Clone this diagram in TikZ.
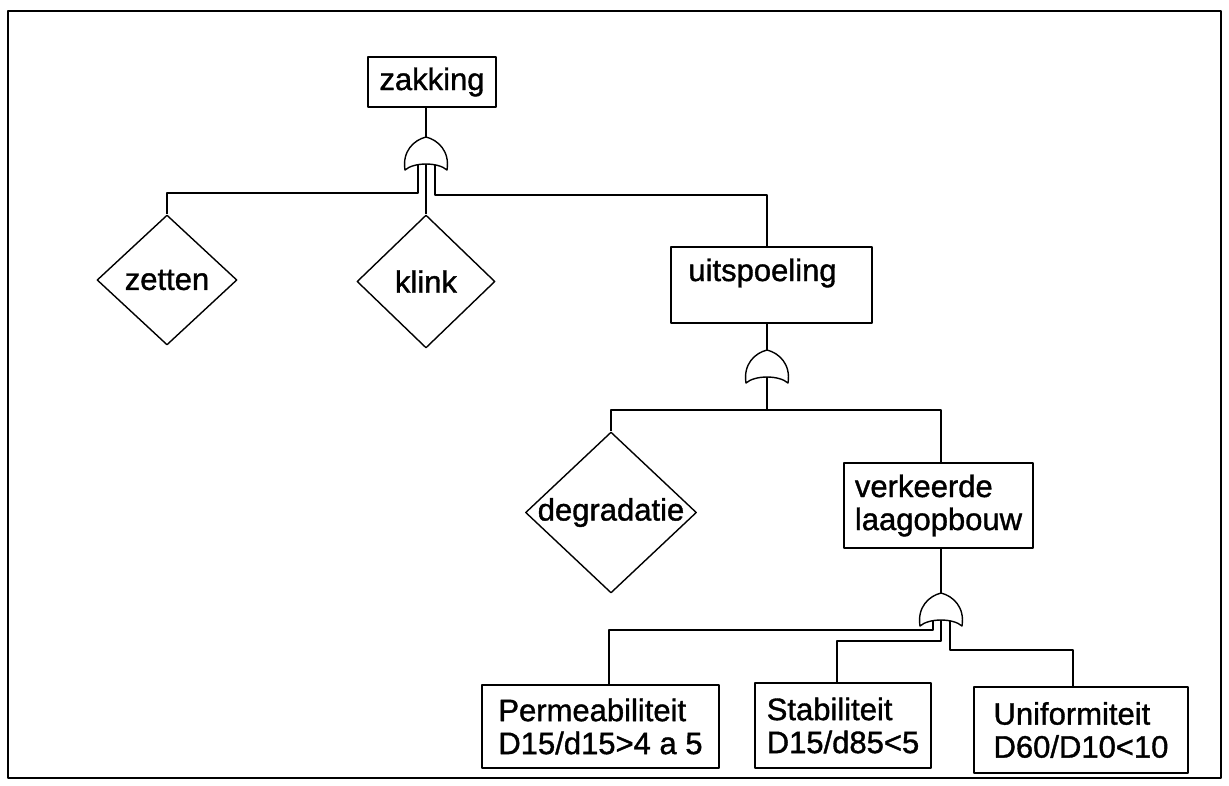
\documentclass[tikz,border=0pt]{standalone}
\usepackage{fontspec}
\setmainfont{Liberation Sans}[FakeBold=1.2]
\usetikzlibrary{calc,shapes.geometric}

\tikzset{
  box/.style={draw, rectangle, align=left, inner sep=0pt},
  ruit/.style={draw, diamond, inner sep=0pt},
  orgate/.pic={
    \draw (-21,33) .. controls (-24,14) and (-12,3) .. (0,0)
          .. controls (12,3) and (24,14) .. (21,33)
          .. controls (12,25) and (-12,25) .. (-21,33) -- cycle;
    \coordinate (-top) at (0,0);
    \coordinate (-l) at (-8,28);
    \coordinate (-c) at (0,27);
    \coordinate (-r) at (9,28);
  }
}

\begin{document}
\begin{tikzpicture}[x=1pt, y=-1pt, line width=1.4pt, line join=round,
    font=\fontsize{31}{33}\selectfont]
    \useasboundingbox (0,0) rectangle (1229,785);
    % kader
    \draw[line width=2.5pt] (8,11) rectangle (1221,778);

    % gebeurtenissen
    \node[box, minimum width=128, minimum height=50] (zakking) at (432,82) {zakking};
    \node[ruit, minimum width=140, minimum height=130, label=center:zetten] (zetten) at (167,280) {};
    \node[ruit, minimum width=138, minimum height=133, label=center:klink] (klink) at (426,281.5) {};
    \node[box, minimum width=201, minimum height=76,
      label={[xshift=-9pt, yshift=12pt]center:uitspoeling}] (uitsp) at (771.5,285) {};
    \node[ruit, minimum width=171, minimum height=161, label=center:degradatie] (degrad) at (611,512.5) {};
    \node[box, minimum width=189, minimum height=85] (verkeerd) at (938.5,505.5) {verkeerde\\laagopbouw};
    \node[box, minimum width=237, minimum height=83] (perm) at (600.5,726.5) {Permeabiliteit\\D15/d15>4 a 5};
    \node[box, minimum width=176, minimum height=85] (stab) at (843,725.5) {Stabiliteit\\D15/d85<5};
    \node[box, minimum width=214, minimum height=86] (unif) at (1081,730) {Uniformiteit\\D60/D10<10};

    % of-poorten
    \pic (g1) at (426,137) {orgate};
    \pic (g2) at (767,350) {orgate};
    \pic (g3) at (941,593) {orgate};

    % verbindingen
    \draw (g1-top) -- (g1-top |- zakking.south);
    \draw (g1-l) -- ++(0,28) -| (zetten.north);
    \draw (g1-c) -- (klink.north);
    \draw (g1-r) -- ++(0,30) -| (uitsp.north -| g2-top);
    \draw (uitsp.south -| g2-top) -- (g2-top);
    \draw (g2-c) -- ++(0,33) -| (degrad.north);
    \draw (g2-c) -- ++(0,33) -| (verkeerd.north -| g3-top);
    \draw (verkeerd.south -| g3-top) -- (g3-top);
    \draw (g3-l) -- ++(0,9) -| ([xshift=8.5pt]perm.north);
    \draw (g3-c) -- ++(0,21) -| ([xshift=-6pt]stab.north);
    \draw (g3-r) -- ++(0,29) -| ([xshift=-8pt]unif.north);
\end{tikzpicture}
\end{document}
